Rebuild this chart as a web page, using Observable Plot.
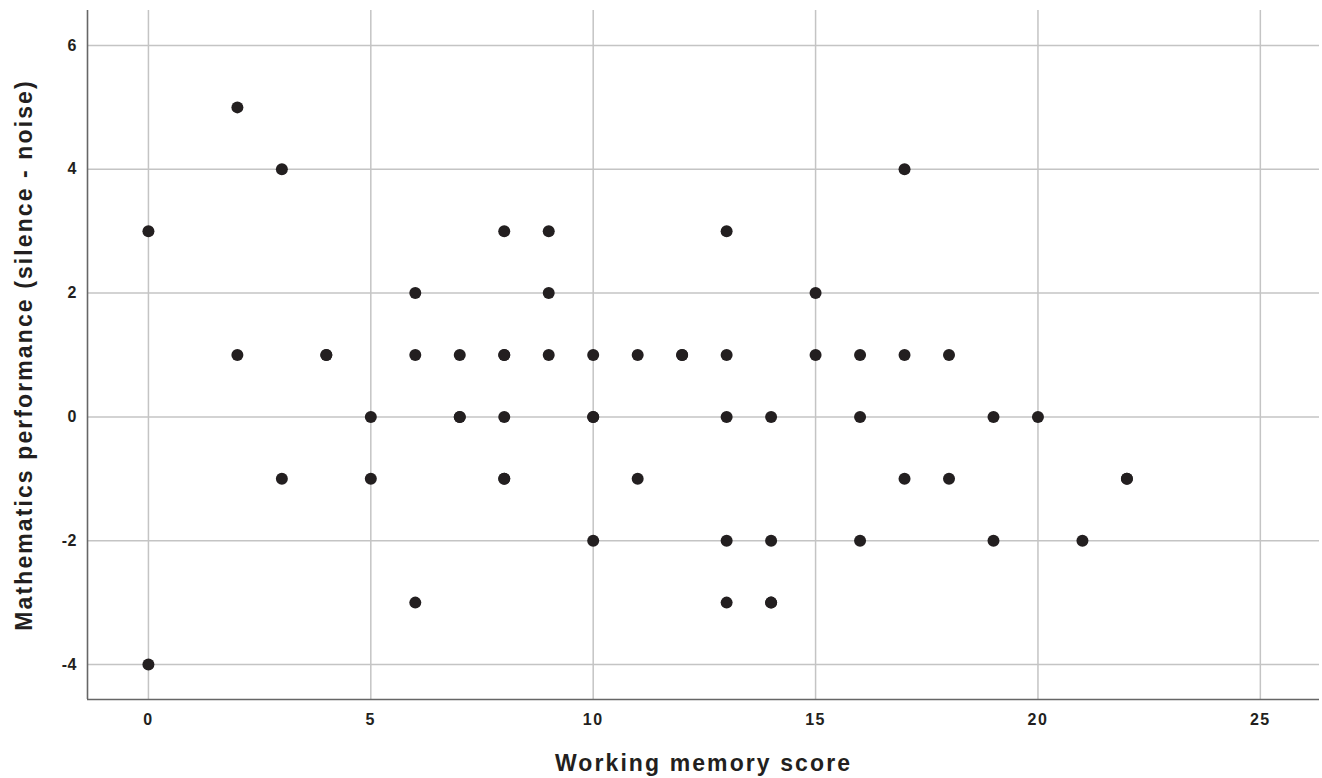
<!DOCTYPE html>
<html>
<head>
<meta charset="utf-8">
<script src="https://cdn.jsdelivr.net/npm/d3@7"></script>
<script src="https://cdn.jsdelivr.net/npm/@observablehq/plot@0.6"></script>
<style>
  html, body { margin: 0; padding: 0; background: #fff; }
  #chart svg { display: block; }
  .title, .title text { font-size: 23px !important; font-weight: bold; letter-spacing: 2.1px; }
  .xlab, .xlab text { letter-spacing: 1.5px; }
  .ylab, .ylab text { letter-spacing: 0.5px; }
</style>
</head>
<body>
<div id="chart"></div>
<script>
// Working memory score (x) and Mathematics performance difference (y), one entry per participant
const workingMemory = [0,0,2,2,3,3,4,4,5,5,6,6,6,7,7,7,8,8,8,8,8,8,9,9,9,10,10,10,10,11,11,12,12,13,13,13,13,13,14,14,14,14,15,15,16,16,16,17,17,17,18,18,19,19,20,21,22,22];
const mathDiff      = [3,-4,5,1,4,-1,1,1,0,-1,2,1,-3,1,0,0,3,1,1,0,-1,-1,3,2,1,1,0,0,-2,1,-1,1,1,3,1,0,-2,-3,0,-2,-3,-3,2,1,1,0,-2,4,1,-1,1,-1,0,-2,0,-2,-1,-1];

const xTicks = [0, 5, 10, 15, 20, 25];
const yTicks = [-4, -2, 0, 2, 4, 6];
const xDomain = [-1.37, 26.33];
const yDomain = [-4.565, 6.565];
const xTitle = "Working memory score";
const yTitle = "Mathematics performance (silence - noise)";

const points = workingMemory.map((x, i) => ({x, y: mathDiff[i]}));

const ink = "#231f20";
const chart = Plot.plot({
  width: 1322,
  height: 778,
  marginLeft: 87,
  marginRight: 3,
  marginTop: 10,
  marginBottom: 79,
  style: {fontFamily: '"Liberation Sans", Arial, Helvetica, sans-serif', color: ink, background: "#fff"},
  x: {domain: xDomain, axis: null},
  y: {domain: yDomain, axis: null},
  marks: [
    Plot.gridX(xTicks, {stroke: "#c4c4c4", strokeOpacity: 1, strokeWidth: 1.5}),
    Plot.gridY(yTicks, {stroke: "#c4c4c4", strokeOpacity: 1, strokeWidth: 1.5}),
    Plot.ruleX([xDomain[0]], {stroke: "#666666", strokeWidth: 1.6}),
    Plot.ruleY([yDomain[0]], {stroke: "#666666", strokeWidth: 1.6}),
    Plot.text(xTicks, {x: d => d, text: d => String(d), frameAnchor: "bottom", dy: 20, lineAnchor: "middle", textAnchor: "middle", fontSize: 16, fontWeight: "bold", fill: ink, className: "xlab"}),
    Plot.text(yTicks, {y: d => d, text: d => String(d), frameAnchor: "left", dx: -10.5, lineAnchor: "middle", textAnchor: "end", fontSize: 16, fontWeight: "bold", fill: ink, className: "ylab"}),
    Plot.text([xTitle], {text: d => d, frameAnchor: "bottom", dy: 64, lineAnchor: "middle", textAnchor: "middle", fontSize: 23, fontWeight: "bold", fill: ink, className: "title"}),
    Plot.text([yTitle], {text: d => d, frameAnchor: "left", dx: -63, rotate: -90, lineAnchor: "middle", textAnchor: "middle", fontSize: 23, fontWeight: "bold", fill: ink, className: "title"}),
    Plot.dot(points, {x: "x", y: "y", r: 6, fill: ink, stroke: null})
  ]
});
document.getElementById("chart").append(chart);
</script>
</body>
</html>
